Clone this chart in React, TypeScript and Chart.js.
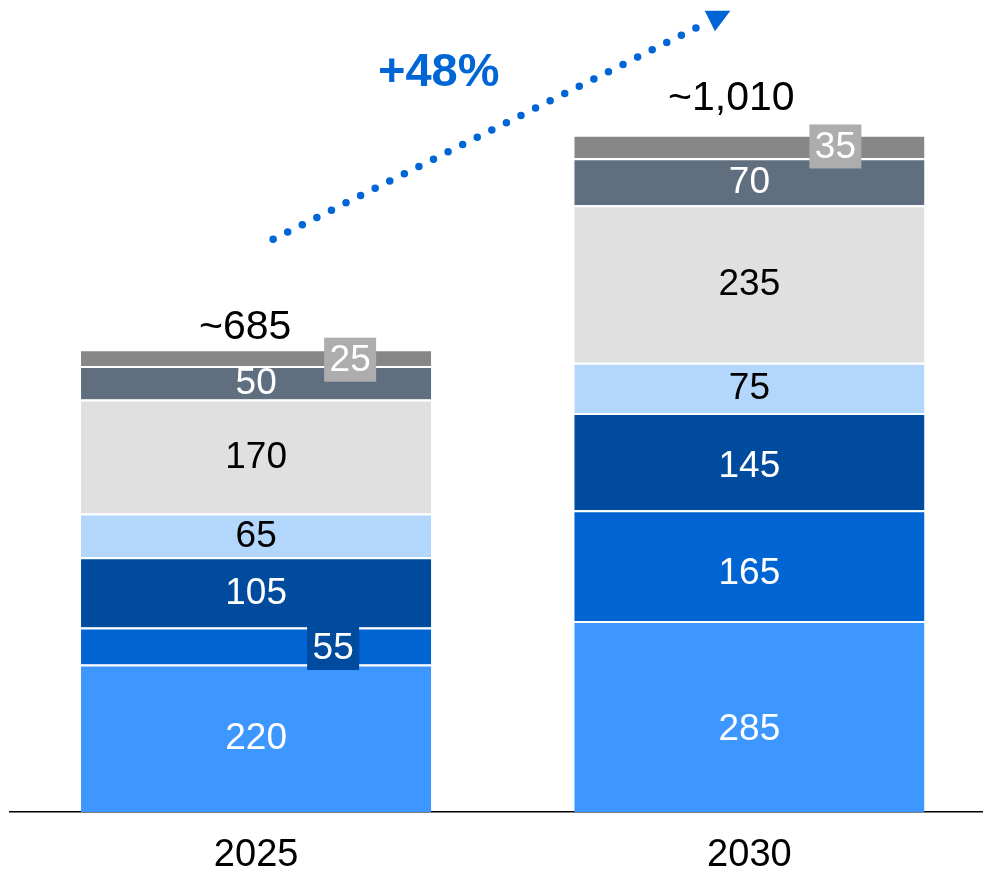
import React, { useEffect, useRef } from 'react';
import { Chart, registerables } from 'chart.js';

Chart.register(...registerables);

// ---------- data ----------
const categories = ['2025', '2030'];
const seriesNames = ['Segment A', 'Segment B', 'Segment C', 'Segment D', 'Segment E', 'Segment F', 'Segment G'];
const segmentA = [220, 285];
const segmentB = [55, 165];
const segmentC = [105, 145];
const segmentD = [65, 75];
const segmentE = [170, 235];
const segmentF = [50, 70];
const segmentG = [25, 35];
const totalLabels = ['~685', '~1,010'];
const growthLabel = '+48%';

// ---------- styles ----------
const FONT = '"Liberation Sans", Arial, sans-serif';
const fillColors = ['#3D97FF', '#0064D2', '#004B9E', '#B3D7FC', '#E0E0E0', '#606F80', '#878787'];
const textColors = ['#FFFFFF', '#FFFFFF', '#FFFFFF', '#000000', '#000000', '#FFFFFF', '#FFFFFF'];
const ACCENT = '#0066D6';
// callout boxes for thin segments: key = datasetIndex-categoryIndex
const callouts: Record<string, { dx: number; dy: number; box: string }> = {
  '1-0': { dx: 77, dy: 2, box: '#004B9E' },
  '6-0': { dx: 94, dy: 2, box: '#ADADAD' },
  '6-1': { dx: 86, dy: 0, box: '#ADADAD' },
};
// small vertical nudges of in-bar labels
const labelNudge: Record<string, number> = {
  '0-1': 12,
  '1-1': 7,
  '2-1': 4,
};
const totalOffsets = [
  { dx: -11, dy: 10 },
  { dx: -18, dy: 25 },
];

const labelPlugin = {
  id: 'segmentLabels',
  afterDatasetsDraw(chart: any) {
    const ctx = chart.ctx as CanvasRenderingContext2D;
    ctx.save();
    ctx.textAlign = 'center';
    ctx.textBaseline = 'middle';
    ctx.font = `37px ${FONT}`;
    chart.data.datasets.forEach((ds: any, di: number) => {
      const meta = chart.getDatasetMeta(di);
      meta.data.forEach((bar: any, j: number) => {
        const { x, y, base } = bar.getProps(['x', 'y', 'base'], true);
        const cy = (y + base) / 2;
        const text = String(ds.data[j]);
        const c = callouts[`${di}-${j}`];
        if (c) {
          const bx = x + c.dx;
          const by = cy + c.dy;
          ctx.fillStyle = c.box;
          ctx.fillRect(bx - 26, by - 22, 52, 44);
          ctx.fillStyle = '#FFFFFF';
          ctx.fillText(text, bx, by + 1);
        } else {
          ctx.fillStyle = textColors[di];
          ctx.fillText(text, x, cy + 1 + (labelNudge[`${di}-${j}`] || 0));
        }
      });
    });

    // totals above bars
    const lastMeta = chart.getDatasetMeta(chart.data.datasets.length - 1);
    const tops: { x: number; y: number }[] = [];
    ctx.font = `41px ${FONT}`;
    ctx.textBaseline = 'alphabetic';
    ctx.fillStyle = '#000000';
    lastMeta.data.forEach((bar: any, j: number) => {
      const { x, y } = bar.getProps(['x', 'y'], true);
      tops.push({ x, y });
      const o = totalOffsets[j];
      ctx.fillText(totalLabels[j], x + o.dx, y - o.dy);
    });

    // growth arrow (dotted) from above first bar to above second bar
    if (tops.length === 2) {
      const sx = tops[0].x + 17;
      const sy = tops[0].y - 110;
      const tx = tops[1].x - 19;
      const ty = tops[1].y - 124;
      const dx = tx - sx;
      const dy = ty - sy;
      const len = Math.hypot(dx, dy);
      const ux = dx / len;
      const uy = dy / len;
      const headLen = 23;
      const headHalf = 11.5;
      const bxp = tx - ux * headLen;
      const byp = ty - uy * headLen;
      ctx.strokeStyle = ACCENT;
      ctx.lineWidth = 7.5;
      ctx.lineCap = 'round';
      ctx.setLineDash([0, 16.3]);
      ctx.beginPath();
      ctx.moveTo(sx, sy);
      ctx.lineTo(bxp - ux * 4, byp - uy * 4);
      ctx.stroke();
      ctx.setLineDash([]);
      ctx.fillStyle = ACCENT;
      ctx.beginPath();
      ctx.moveTo(tx, ty);
      ctx.lineTo(bxp - uy * headHalf, byp + ux * headHalf);
      ctx.lineTo(bxp + uy * headHalf, byp - ux * headHalf);
      ctx.closePath();
      ctx.fill();

      // growth label
      const mx = (sx + tx) / 2;
      const my = (sy + ty) / 2;
      ctx.font = `bold 47px ${FONT}`;
      ctx.textAlign = 'center';
      ctx.textBaseline = 'middle';
      ctx.fillStyle = ACCENT;
      ctx.fillText(growthLabel, mx - 63, my - 52);
    }
    ctx.restore();
  },
};

export default function App() {
  const canvasRef = useRef<HTMLCanvasElement | null>(null);

  useEffect(() => {
    if (!canvasRef.current) return;
    const series = [segmentA, segmentB, segmentC, segmentD, segmentE, segmentF, segmentG];
    const chart = new Chart(canvasRef.current, {
      type: 'bar',
      data: {
        labels: categories,
        datasets: series.map((values, i) => ({
          label: seriesNames[i],
          data: values,
          backgroundColor: fillColors[i],
          borderColor: '#FFFFFF',
          borderWidth: { top: 2, right: 0, bottom: 0, left: 0 },
          borderSkipped: false,
          categoryPercentage: 1,
          barPercentage: 0.71,
        })),
      },
      options: {
        responsive: false,
        animation: false,
        devicePixelRatio: 1,
        layout: { padding: { left: 9.5, right: 0, top: 10, bottom: 0 } },
        plugins: {
          legend: { display: false },
          tooltip: { enabled: false },
        },
        scales: {
          x: {
            stacked: true,
            offset: true,
            grid: { display: false, drawTicks: false },
            border: { display: true, color: '#000000', width: 1.5 },
            ticks: {
              color: '#000000',
              font: { family: FONT, size: 38 },
              padding: 21,
            },
            afterFit: (scale: any) => {
              scale.height = 57;
            },
          },
          y: {
            stacked: true,
            display: false,
            min: 0,
            max: 1196,
          },
        },
      },
      plugins: [labelPlugin],
    });
    return () => chart.destroy();
  }, []);

  return (
    <div
      style={{
        position: 'fixed',
        left: 0,
        top: 0,
        width: 983,
        height: 869,
        overflow: 'hidden',
        background: '#FFFFFF',
      }}
    >
      <canvas ref={canvasRef} width={996} height={869} style={{ display: 'block' }} />
    </div>
  );
}
